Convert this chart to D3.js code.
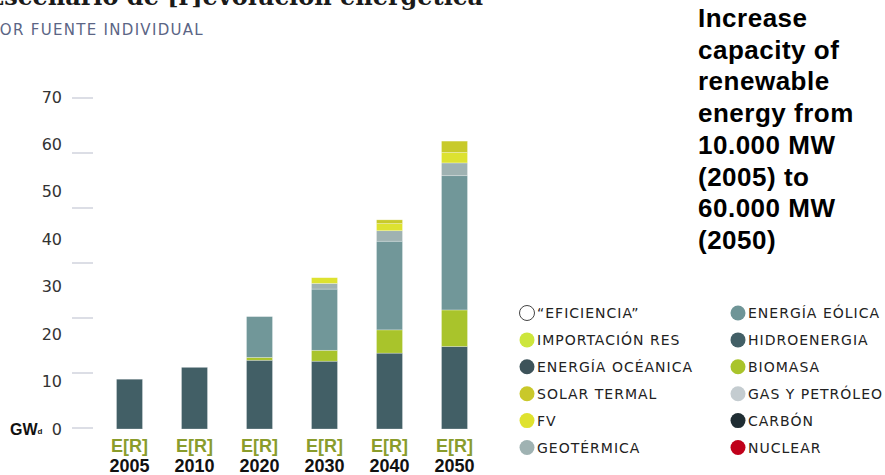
<!DOCTYPE html>
<html>
<head>
<meta charset="utf-8">
<script src="https://cdn.jsdelivr.net/npm/d3@7"></script>
<style>
  html, body { margin: 0; padding: 0; background: #fff; overflow: hidden; }
  svg { display: block; }
</style>
</head>
<body>
<svg id="chart" width="885" height="475"></svg>
<script>
// Installed renewable capacity by source, GW
const years = ["2005", "2010", "2020", "2030", "2040", "2050"];
const scenarioTag = "E[R]";

const hidroenergia = [10.5, 13.0, 14.5, 14.3, 16.0, 17.4];
const biomasa      = [0,    0,    0.6,  2.3,  4.9,  7.7];
const eolica       = [0,    0,    8.6,  12.9, 18.7, 28.3];
const geotermica   = [0,    0,    0,    1.2,  2.2,  2.7];
const fv           = [0,    0,    0,    1.2,  1.5,  2.2];
const solarTermal  = [0,    0,    0,    0,    0.8,  2.4];

const yTicks = [0, 10, 20, 30, 40, 50, 60, 70];

const legendLabels = [
  "\u201CEFICIENCIA\u201D", "IMPORTACIÓN RES", "ENERGÍA OCÉANICA", "SOLAR TERMAL", "FV", "GEOTÉRMICA",
  "ENERGÍA EÓLICA", "HIDROENERGIA", "BIOMASA", "GAS Y PETRÓLEO", "CARBÓN", "NUCLEAR"
];
const legendColors = [
  "#ffffff", "#cde63c", "#3d535a", "#c9c82a", "#dfe22e", "#9fb2b2",
  "#6f9597", "#425f66", "#a9c42b", "#c4ccd0", "#1f2d33", "#c0001a"
];

const noteLines = [
  "Increase", "capacity of", "renewable", "energy from",
  "10.000 MW", "(2005) to", "60.000 MW", "(2050)"
];

// stacking order, bottom to top
const seriesKeys = ["hidroenergia", "biomasa", "eolica", "geotermica", "fv", "solarTermal"];
const seriesColor = {
  hidroenergia: "#425f66", biomasa: "#a9c42b", eolica: "#719799",
  geotermica: "#9fb2b2", fv: "#dde230", solarTermal: "#c8ca2a"
};
const seriesValues = { hidroenergia, biomasa, eolica, geotermica, fv, solarTermal };

const rows = years.map((yr, i) => {
  const r = { year: yr };
  seriesKeys.forEach(k => r[k] = seriesValues[k][i]);
  return r;
});

const svg = d3.select("#chart");

// heading (runs off the top-left edge)
svg.append("text")
  .attr("x", 483).attr("y", 5)
  .attr("text-anchor", "end")
  .attr("font-family", "DejaVu Serif")
  .attr("font-weight", "bold")
  .attr("font-size", 24)
  .attr("fill", "#1a1a1a")
  .text("Escenario de [r]evolución energética");

svg.append("text")
  .attr("x", -10.5).attr("y", 35)
  .attr("font-family", "DejaVu Sans")
  .attr("font-size", 15)
  .attr("letter-spacing", 1.3)
  .attr("fill", "#5b6585")
  .text("POR FUENTE INDIVIDUAL");

// scales
const x = d3.scaleBand().domain(years).range([97, 487]).paddingInner(0.6).paddingOuter(0.3);
const y = d3.scaleLinear().domain([0, 70]).range([429, 97]);

// y-axis labels
const yAxis = svg.append("g").attr("transform", "translate(62,0)")
  .call(d3.axisLeft(y).tickValues(yTicks).tickSize(0).tickPadding(0));
yAxis.select(".domain").remove();
yAxis.selectAll("text")
  .attr("font-family", "DejaVu Sans")
  .attr("font-size", 16)
  .attr("fill", "#333")
  .attr("dy", "0.32em");

// short rules beside the labels, evenly spaced from 0 to the top label
const rule = d3.scaleLinear().domain([0, 6]).range([y(0) - 1, y(70) + 1]);
svg.append("g").selectAll("line").data(d3.range(7)).join("line")
  .attr("x1", 72).attr("x2", 93)
  .attr("y1", d => rule(d)).attr("y2", d => rule(d))
  .attr("stroke", "#b9bdcc").attr("stroke-width", 1);

// unit label
const unit = svg.append("text")
  .attr("x", 10).attr("y", y(0) + 6)
  .attr("font-family", "Liberation Sans")
  .attr("font-weight", "bold")
  .attr("font-size", 16)
  .attr("fill", "#111");
unit.append("tspan").text("GW");
unit.append("tspan").attr("font-size", 8).attr("dy", -1).text("d");

// stacked bars
const stacked = d3.stack().keys(seriesKeys)(rows);
svg.append("g").selectAll("g").data(stacked).join("g")
  .attr("fill", d => seriesColor[d.key])
  .selectAll("rect").data(d => d).join("rect")
    .attr("x", d => x(d.data.year))
    .attr("width", x.bandwidth())
    .attr("y", d => y(d[1]))
    .attr("height", d => y(d[0]) - y(d[1]))
    .attr("stroke", "rgba(255,255,255,0.45)")
    .attr("stroke-width", 0.6);

// category labels
const xl = svg.append("g");
xl.selectAll("text.tag").data(years).join("text")
  .attr("class", "tag")
  .attr("x", d => x(d) + x.bandwidth() / 2).attr("y", 452)
  .attr("text-anchor", "middle")
  .attr("font-family", "Liberation Sans").attr("font-weight", "bold")
  .attr("font-size", 18).attr("fill", "#8a9c2c")
  .text(scenarioTag);
xl.selectAll("text.yr").data(years).join("text")
  .attr("class", "yr")
  .attr("x", d => x(d) + x.bandwidth() / 2).attr("y", 472)
  .attr("text-anchor", "middle")
  .attr("font-family", "Liberation Sans").attr("font-weight", "bold")
  .attr("font-size", 18).attr("fill", "#111")
  .text(d => d);

// legend, two columns of six
const legend = svg.append("g");
const item = legend.selectAll("g").data(legendLabels).join("g")
  .attr("transform", (d, i) => `translate(${i < 6 ? 527 : 738},${313 + (i % 6) * 26.9})`);
item.append("circle")
  .attr("r", 7.5)
  .attr("fill", (d, i) => legendColors[i])
  .attr("stroke", (d, i) => i === 0 ? "#444" : "none")
  .attr("stroke-width", 1);
item.append("text")
  .attr("x", 10).attr("y", 5.2)
  .attr("font-family", "DejaVu Sans")
  .attr("font-size", 14)
  .attr("letter-spacing", 1)
  .attr("fill", "#222")
  .text(d => d);

// side note
svg.append("g").selectAll("text").data(noteLines).join("text")
  .attr("x", 698).attr("y", (d, i) => 27 + i * 31.7)
  .attr("font-family", "Liberation Sans").attr("font-weight", "bold")
  .attr("font-size", 26).attr("letter-spacing", 0.5)
  .attr("fill", "#000")
  .text(d => d);
</script>
</body>
</html>
